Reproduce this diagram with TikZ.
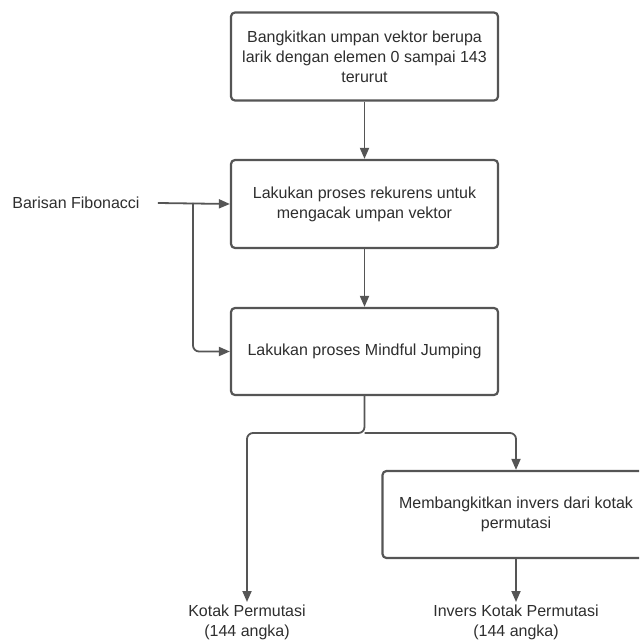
\documentclass[tikz,border=0pt]{standalone}
\usepackage{fontspec}
\setmainfont{Liberation Sans}
\usetikzlibrary{arrows.meta}
\definecolor{edge}{HTML}{555555}
\definecolor{ink}{HTML}{2E2E2E}
\tikzset{
  procbox/.style={draw=edge, line width=2.2pt, rounded corners=4pt, fill=white,
    minimum width=267pt, minimum height=88pt, align=center, text=ink,
    font=\fontsize{16}{20}\selectfont, inner sep=0pt},
  label/.style={text=ink, align=center, font=\fontsize{16}{20}\selectfont, inner sep=3pt},
  flow/.style={draw=edge, line width=1.8pt, -{Triangle[length=11pt,width=9pt]}},
}
\begin{document}
\begin{tikzpicture}[x=1pt,y=-1pt]
\useasboundingbox (0,0) rectangle (639,644);
\clip (0,0) rectangle (639,644);
% process steps
\node[procbox] (gen)  at (364.5,56.5) {Bangkitkan umpan vektor berupa\\larik dengan elemen 0 sampai 143\\terurut};
\node[procbox] (rek)  at (364.5,204) {Lakukan proses rekurens untuk\\mengacak umpan vektor};
\node[procbox, minimum height=87pt] (jump) at (364.5,351.5) {Lakukan proses Mindful Jumping};
\node[procbox, minimum height=87pt] (inv)  at (516,514.5) {Membangkitkan invers dari kotak\\permutasi};
% input and outputs
\node[label, inner xsep=18pt] (fib) at (76,203) {Barisan Fibonacci};
\node[label, anchor=north] (kot) at (247,602) {Kotak Permutasi\\(144 angka)};
\node[label, anchor=north] (ikot) at (516,602) {Invers Kotak Permutasi\\(144 angka)};
\coordinate (fork) at (193,203);
\coordinate (split) at (364.5,433);
% connectors
\draw[flow] (gen.south) -- (rek.north);
\draw[flow] (rek.south) -- (jump.north);
\draw[flow] (fib.east) -- (rek.west);
\draw[flow, rounded corners=6pt] (fork) |- (jump.west);
\draw[flow, rounded corners=6pt] (jump.south) -- (split) -| (kot.north);
\draw[flow, rounded corners=6pt] (split) -| (inv.north);
\draw[flow] (inv.south) -- (ikot.north);
\end{tikzpicture}
\end{document}
